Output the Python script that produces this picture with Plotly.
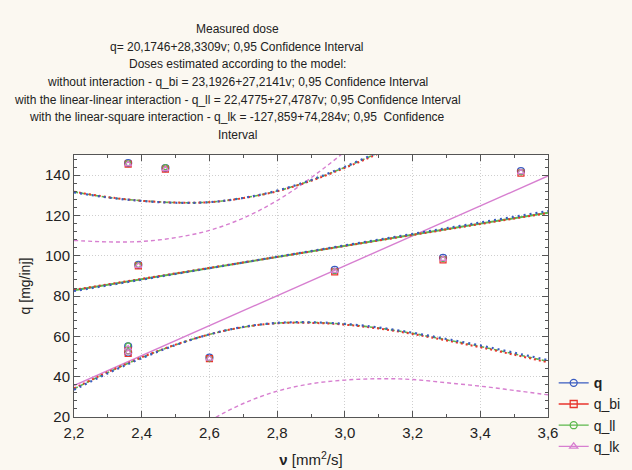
import plotly.graph_objects as go

# ---- data ----
v_points = [2.36, 2.36, 2.36, 2.39, 2.47, 2.60, 2.97, 3.29, 3.52]
q_meas = [146.0, 55.0, 52.0, 95.5, 143.5, 49.5, 93.0, 99.0, 142.0]
q_bi_pts = [145.5, 53.0, 51.5, 95.0, 143.0, 49.0, 92.0, 98.0, 141.0]
q_ll_pts = [146.0, 55.5, 52.5, 95.5, 144.0, 49.0, 92.5, 98.5, 141.5]
q_lk_pts = [145.5, 54.0, 52.0, 95.0, 143.0, 49.0, 92.5, 98.5, 141.5]

fit_v = [2.2, 3.6]
q_fit = [82.5, 122.2]
q_bi_fit = [83.1, 121.2]
q_ll_fit = [82.9, 121.4]
q_lk_fit = [35.6, 139.6]

band_v = [2.2, 2.3, 2.4, 2.5, 2.6, 2.7, 2.8, 2.9, 3.0, 3.1, 3.2, 3.3, 3.4, 3.5, 3.6]
q_upper = [131.5, 128.9, 127.2, 126.3, 126.6, 128.7, 132.3, 137.6, 144.2, 151.6, 159.8]
q_lower = [33.5, 41.7, 49.2, 55.7, 61.0, 64.7, 66.7, 67.0, 66.2, 64.4, 61.8, 58.7, 55.5, 51.9, 48.2]
q_bi_upper = [131.8, 129.1, 127.3, 126.4, 126.6, 128.6, 132.0, 137.2, 143.6, 150.8, 158.8]
q_bi_lower = [34.2, 42.3, 49.6, 55.9, 61.0, 64.6, 66.5, 66.7, 65.8, 63.9, 61.2, 58.0, 54.6, 50.9, 47.1]
q_ll_upper = [131.7, 129.0, 127.3, 126.4, 126.6, 128.7, 132.1, 137.4, 143.9, 151.2, 159.3]
q_ll_lower = [34.0, 42.1, 49.5, 55.8, 61.0, 64.6, 66.6, 66.9, 66.0, 64.1, 61.5, 58.3, 55.0, 51.3, 47.6]
lk_upper_v = [2.2, 2.3, 2.4, 2.5, 2.6, 2.7, 2.8, 2.9, 3.0, 3.1]
q_lk_upper = [107.6, 106.9, 107.1, 109.0, 112.6, 118.7, 127.4, 138.7, 151.7, 166.3]
lk_lower_v = [2.4, 2.5, 2.6, 2.7, 2.8, 2.9, 3.0, 3.1, 3.2, 3.3, 3.4, 3.5, 3.6]
q_lk_lower = [-6.3, 6.8, 18.0, 26.7, 32.8, 36.5, 38.3, 39.0, 38.6, 37.0, 35.3, 33.2, 31.0]

series_names = ["<b>q</b>", "q_bi", "q_ll", "q_lk"]
title_lines = [
    "Measured dose",
    "q= 20,1746+28,3309v; 0,95 Confidence Interval",
    "Doses estimated according to the model:",
    "without interaction - q_bi = 23,1926+27,2141v; 0,95 Confidence Interval",
    "with the linear-linear interaction - q_ll = 22,4775+27,4787v; 0,95 Confidence Interval",
    "with the linear-square interaction - q_lk = -127,859+74,284v; 0,95  Confidence",
    "Interval",
]

BLUE = "#3a5cc0"
RED = "#e8352c"
GREEN = "#5cb84c"
PINK = "#d77fd0"

fig = go.Figure()

def line(x, y, color, dash, width=1.6, shape="spline"):
    fig.add_trace(go.Scatter(x=x, y=y, mode="lines", showlegend=False,
                             line=dict(color=color, dash=dash, width=width, shape=shape),
                             hoverinfo="skip"))

SHORT = "4px,3px"
DOTS = "2px,3px"

# pink model
line(lk_upper_v, q_lk_upper, PINK, SHORT, width=1.4)
line(lk_lower_v, q_lk_lower, PINK, SHORT, width=1.4)
line(fit_v, q_lk_fit, PINK, "solid", width=1.4, shape="linear")

# green / red / blue
line(band_v[:len(q_ll_upper)], q_ll_upper, GREEN, SHORT)
line(band_v, q_ll_lower, GREEN, SHORT)
line(fit_v, q_ll_fit, GREEN, "solid", width=2, shape="linear")
line(band_v[:len(q_bi_upper)], q_bi_upper, RED, DOTS, width=2)
line(band_v, q_bi_lower, RED, DOTS, width=2)
line(fit_v, q_bi_fit, RED, DOTS, width=2, shape="linear")
line(band_v[:len(q_upper)], q_upper, BLUE, "2px,4px", width=2.2)
line(band_v, q_lower, BLUE, "2px,4px", width=2.2)
line(fit_v, q_fit, BLUE, "2px,4px", width=2.2, shape="linear")

# points
def pts(y, color, symbol, size):
    fig.add_trace(go.Scatter(x=v_points, y=y, mode="markers", showlegend=False,
                             marker=dict(symbol=symbol, size=size, color=color,
                                         line=dict(color=color, width=1.2))))

pts(q_meas, BLUE, "circle-open", 7)
pts(q_bi_pts, RED, "square-open", 6)
pts(q_ll_pts, GREEN, "circle-open", 5)
pts(q_lk_pts, PINK, "triangle-up-open", 6)

# legend entries
for name, color, symbol in zip(series_names, [BLUE, RED, GREEN, PINK],
                               ["circle-open", "square-open", "circle-open", "triangle-up-open"]):
    fig.add_trace(go.Scatter(x=[None], y=[None], mode="lines+markers", name=name,
                             line=dict(color=color, width=1.3),
                             marker=dict(symbol=symbol, size=7, color=color,
                                         line=dict(color=color, width=1.3))))

# title lines
L, R, T, B = 74, 84, 155, 53
W, H = 632, 470
ph = H - T - B
for i, txt in enumerate(title_lines):
    py = 29 + i * 17.7
    fig.add_annotation(text=txt, xref="paper", yref="paper",
                       x=(237 - L) / (W - L - R), y=(H - B - py) / ph,
                       xanchor="center", yanchor="middle", showarrow=False,
                       font=dict(size=12, color="#222"))

axis_common = dict(showline=True, linecolor="#555", linewidth=1, mirror="ticks",
                   ticks="inside", ticklen=6, tickcolor="#555", automargin=False,
                   showgrid=True, gridcolor="#cfcfcf", griddash="1px,2px", gridwidth=1,
                   zeroline=False, tickfont=dict(size=15, color="#222"))

fig.update_xaxes(range=[2.2, 3.6], dtick=0.2, tick0=2.2, tickformat=".1f",
                 ticklabelstandoff=2,
                 minor=dict(dtick=0.1, ticks="inside", ticklen=3, tickcolor="#555", showgrid=False),
                 title=dict(text="<b>ν</b> [mm<sup>2</sup>/s]", font=dict(size=15, color="#222"), standoff=14),
                 **axis_common)
fig.update_yaxes(range=[20, 150], dtick=20, tick0=20,
                 minor=dict(dtick=4, ticks="inside", ticklen=3, tickcolor="#555", showgrid=False),
                 title=dict(text="q [mg/inj]", font=dict(size=14, color="#222"), standoff=11),
                 **axis_common)

fig.update_layout(
    width=W, height=H,
    margin=dict(l=L, r=R, t=T, b=B, autoexpand=False),
    paper_bgcolor="#fbf8f1", plot_bgcolor="white",
    font=dict(family="Liberation Sans, Arial, sans-serif", color="#222"),
    separators=", ",
    legend=dict(x=1.012, y=0.19, xanchor="left", yanchor="top",
                font=dict(size=14, color="#222"), bgcolor="rgba(0,0,0,0)",
                tracegroupgap=0, itemwidth=30),
)

fig.write_html("out.html", config={"displayModeBar": False},
               post_script="document.body.style.margin='0';")
